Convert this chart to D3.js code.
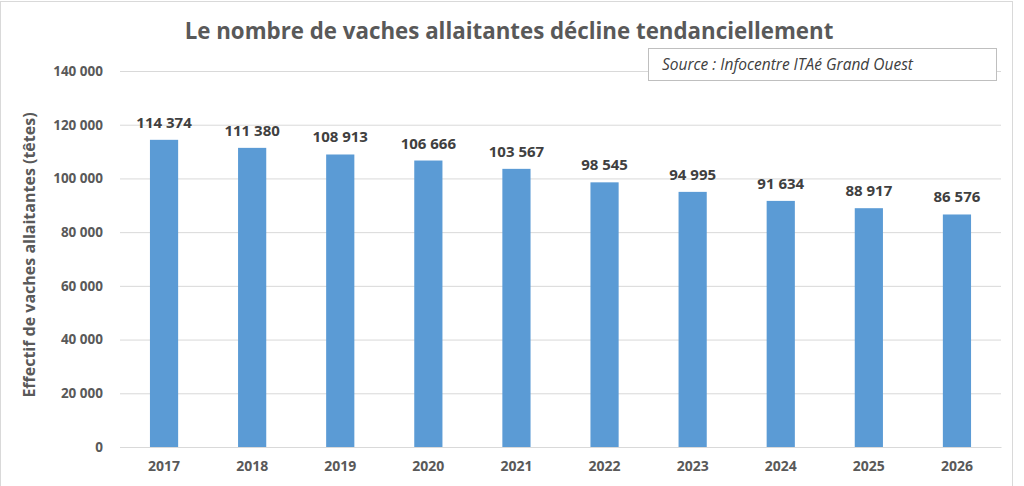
<!DOCTYPE html>
<html>
<head>
<meta charset="utf-8">
<script src="https://cdn.jsdelivr.net/npm/d3@7"></script>
<style>
  body { margin: 0; background: #fff; }
  text { font-family: "Open Sans", "DejaVu Sans", sans-serif; }
</style>
</head>
<body>
<div id="chart"></div>
<script>
const years = ['2017', '2018', '2019', '2020', '2021', '2022', '2023', '2024', '2025', '2026'];
const cows = [114374, 111380, 108913, 106666, 103567, 98545, 94995, 91634, 88917, 86576];
const yTicks = [0, 20000, 40000, 60000, 80000, 100000, 120000, 140000];

const width = 1024, height = 486;
const margin = { top: 71, right: 23, bottom: 39, left: 120 };
const innerwidth = width - margin.left - margin.right;
const innerheight = height - margin.top - margin.bottom;

const fmt = v => d3.format(',')(v).replace(/,/g, ' ');

const svg = d3.select('#chart')
  .append('svg')
  .attr('width', width)
  .attr('height', height);

// outer frame
svg.append('rect')
  .attr('x', 0.5).attr('y', 1.5)
  .attr('width', 1012).attr('height', height - 1)
  .attr('fill', 'none')
  .attr('stroke', '#d9d9d9');

svg.append('text')
  .attr('x', 509).attr('y', 39)
  .attr('text-anchor', 'middle')
  .attr('font-size', 22.3)
  .attr('font-weight', 'bold')
  .attr('fill', '#595959')
  .text('Le nombre de vaches allaitantes décline tendanciellement');

const g = svg.append('g')
  .attr('transform', `translate(${margin.left}, ${margin.top})`);

const xScale = d3.scaleBand()
  .domain(years)
  .range([0, innerwidth])
  .paddingInner(0.68)
  .paddingOuter(0.34);

const yScale = d3.scaleLinear()
  .domain([0, 140000])
  .range([innerheight, 0]);

const yAxis = d3.axisLeft(yScale)
  .tickValues(yTicks)
  .tickSize(-innerwidth)
  .tickPadding(17)
  .tickFormat(fmt);

g.append('g')
  .attr('class', 'y-axis')
  .call(yAxis)
  .call(s => s.select('.domain').remove())
  .call(s => s.selectAll('line').attr('stroke', '#d9d9d9'))
  .call(s => s.selectAll('text')
    .attr('font-size', 13.5)
    .attr('font-weight', 'bold')
    .attr('fill', '#595959'));

const xAxis = d3.axisBottom(xScale).tickSize(0).tickPadding(14);

g.append('g')
  .attr('class', 'x-axis')
  .attr('transform', `translate(0, ${innerheight})`)
  .call(xAxis)
  .call(s => s.select('.domain').attr('stroke', '#d9d9d9'))
  .call(s => s.selectAll('text')
    .attr('font-size', 14)
    .attr('font-weight', 'bold')
    .attr('fill', '#595959'));

const entries = years.map((y, i) => [y, cows[i]]);

g.selectAll('rect.bar')
  .data(entries)
  .join('rect')
  .attr('class', 'bar')
  .attr('x', d => xScale(d[0]))
  .attr('y', d => yScale(d[1]))
  .attr('width', xScale.bandwidth())
  .attr('height', d => innerheight - yScale(d[1]))
  .attr('fill', '#5b9bd5');

g.selectAll('text.val')
  .data(entries)
  .join('text')
  .attr('class', 'val')
  .attr('x', d => xScale(d[0]) + xScale.bandwidth() / 2)
  .attr('y', d => yScale(d[1]) - 12)
  .attr('text-anchor', 'middle')
  .attr('font-size', 15)
  .attr('font-weight', 'bold')
  .attr('fill', '#404040')
  .text(d => fmt(d[1]));

svg.append('text')
  .attr('transform', 'translate(35, 255) rotate(-90)')
  .attr('text-anchor', 'middle')
  .attr('font-size', 16)
  .attr('font-weight', 'bold')
  .attr('fill', '#595959')
  .text('Effectif de vaches allaitantes (têtes)');

// source box
svg.append('rect')
  .attr('x', 648.5).attr('y', 48.5)
  .attr('width', 348).attr('height', 32)
  .attr('fill', '#fff')
  .attr('stroke', '#bfbfbf');

svg.append('text')
  .attr('x', 662).attr('y', 70)
  .attr('font-size', 15.5)
  .attr('font-style', 'italic')
  .attr('fill', '#404040')
  .text('Source : Infocentre ITAé Grand Ouest');
</script>
</body>
</html>
